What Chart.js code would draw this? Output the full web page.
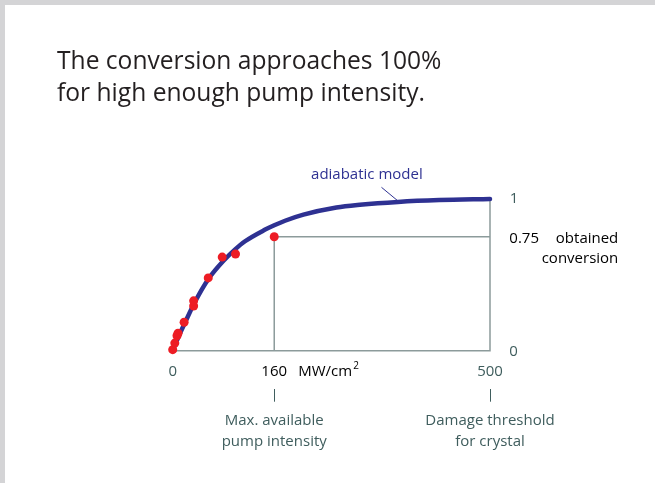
<!DOCTYPE html>
<html><head><meta charset="utf-8">
<script src="https://cdn.jsdelivr.net/npm/chart.js@4"></script>
<style>
html,body{margin:0;padding:0;background:#fff;}
#wrap{position:absolute;left:0;top:0;width:650px;height:478px;border-left:5px solid #d4d4d6;border-top:5px solid #d4d4d6;background:#fff;}
canvas{display:block;}
</style></head><body>
<div id="wrap"><canvas id="c" width="650" height="478"></canvas></div>
<script>
// Title
const titleLines = ['The conversion approaches 100%', 'for high enough pump intensity.'];
// Adiabatic model curve (pump intensity MW/cm², conversion)
const modelIntensity  = [0, 5, 11.5, 20, 35, 56, 82, 98, 114, 145, 160, 177, 206, 258, 295, 355, 420, 500];
const modelConversion = [0, 0.05, 0.114, 0.19, 0.32, 0.47, 0.60, 0.665, 0.72, 0.795, 0.825, 0.855, 0.895, 0.942, 0.96, 0.979, 0.991, 0.998];
// Measured points
const measIntensity  = [0, 3.3, 6.8, 8.4, 18, 33, 33, 56, 78, 99, 160];
const measConversion = [0.007, 0.05, 0.098, 0.115, 0.187, 0.294, 0.328, 0.479, 0.616, 0.636, 0.75];
// Reference lines
const frameX = [0, 500, 500];
const frameY = [0, 0, 1];
const markX = [160, 160, 500];
const markY = [0, 0.75, 0.75];
// Tick values / labels
const maxPump = 160, damage = 500, obtained = 0.75;

const pts = (xs, ys) => xs.map((v, i) => ({x: v, y: ys[i]}));
const NAVY = '#2e3192', RED = '#ed1c24', GRID = '#8c9b9b', LBL = '#3f5d5d';
const F = '"Open Sans", sans-serif';

const labelPlugin = {
  id: 'labels',
  afterDraw(chart) {
    const {ctx, scales: {x, y}} = chart;
    ctx.save();
    ctx.textBaseline = 'alphabetic';
    // title
    ctx.fillStyle = '#231f20';
    ctx.font = '24.6px ' + F;
    ctx.textAlign = 'left';
    titleLines.forEach((t, i) => ctx.fillText(t, 52, 63.5 + i * 32));

    const x0 = x.getPixelForValue(0), x160 = x.getPixelForValue(maxPump), x500 = x.getPixelForValue(damage);
    const y0 = y.getPixelForValue(0), y1 = y.getPixelForValue(1), y75 = y.getPixelForValue(obtained);

    ctx.font = '15px ' + F;
    // x ticks
    ctx.textBaseline = 'middle';
    ctx.textAlign = 'center';
    ctx.fillStyle = LBL;
    ctx.fillText('0', x0, y0 + 21);
    ctx.fillText(String(damage), x500, y0 + 21);
    ctx.fillStyle = '#000';
    ctx.fillText(String(maxPump), x160, y0 + 21);
    ctx.textAlign = 'left';
    ctx.fillText('MW/cm', x160 + 24, y0 + 21);
    const w = ctx.measureText('MW/cm').width;
    ctx.font = '10px ' + F;
    ctx.fillText('2', x160 + 24 + w + 1, y0 + 15);
    ctx.font = '15px ' + F;

    // y ticks
    ctx.fillStyle = LBL;
    ctx.textAlign = 'center';
    ctx.fillText('1', x500 + 24, y1);
    ctx.fillText('0', x500 + 23.5, y0 + 1);

    // obtained conversion
    ctx.textBaseline = 'alphabetic';
    ctx.fillStyle = '#000';
    ctx.textAlign = 'left';
    ctx.fillText(String(obtained), x500 + 19.3, y75 + 6.6);
    ctx.textAlign = 'right';
    ctx.fillText('obtained', x500 + 128.3, y75 + 6.6);
    ctx.fillText('conversion', x500 + 128.3, y75 + 26.6);

    // small tick marks below
    ctx.strokeStyle = LBL;
    ctx.lineWidth = 1;
    [x160, x500].forEach(px => {
      ctx.beginPath();
      ctx.moveTo(Math.round(px) + 0.5, y0 + 38.3);
      ctx.lineTo(Math.round(px) + 0.5, y0 + 51);
      ctx.stroke();
    });
    ctx.fillStyle = LBL;
    ctx.textAlign = 'center';
    ctx.fillText('Max. available', x160, y0 + 74.3);
    ctx.fillText('pump intensity', x160, y0 + 95.3);
    ctx.fillText('Damage threshold', x500, y0 + 74.3);
    ctx.fillText('for crystal', x500, y0 + 95.3);

    // adiabatic model label + leader
    ctx.fillStyle = NAVY;
    ctx.textAlign = 'left';
    ctx.fillText('adiabatic model', x.getPixelForValue(218), y1 - 19.4);
    ctx.strokeStyle = NAVY;
    ctx.lineWidth = 1;
    ctx.beginPath();
    ctx.moveTo(x.getPixelForValue(329), y.getPixelForValue(1.075));
    ctx.lineTo(x.getPixelForValue(355), y.getPixelForValue(0.985));
    ctx.stroke();
    ctx.restore();
  }
};

new Chart(document.getElementById('c'), {
  type: 'scatter',
  data: {
    datasets: [
      {data: pts(measIntensity, measConversion), pointRadius: 4.5, pointHoverRadius: 4.5,
       backgroundColor: RED, borderWidth: 0, showLine: false, clip: false},
      {data: pts(modelIntensity, modelConversion), showLine: true, pointRadius: 0,
       borderColor: NAVY, borderWidth: 4.5, cubicInterpolationMode: 'monotone', clip: false,
       borderCapStyle: 'round'},
      {data: pts(markX, markY), showLine: true, pointRadius: 0, borderColor: GRID, borderWidth: 1.5, clip: false},
      {data: pts(frameX, frameY), showLine: true, pointRadius: 0, borderColor: GRID, borderWidth: 1.5, clip: false}
    ]
  },
  options: {
    responsive: false,
    animation: false,
    events: [],
    layout: {padding: {left: 167.7, right: 165, top: 193.7, bottom: 132.3}},
    plugins: {legend: {display: false}, tooltip: {enabled: false}},
    scales: {
      x: {type: 'linear', min: 0, max: 500, display: false},
      y: {type: 'linear', min: 0, max: 1, display: false}
    }
  },
  plugins: [labelPlugin]
});
</script>
</body></html>
